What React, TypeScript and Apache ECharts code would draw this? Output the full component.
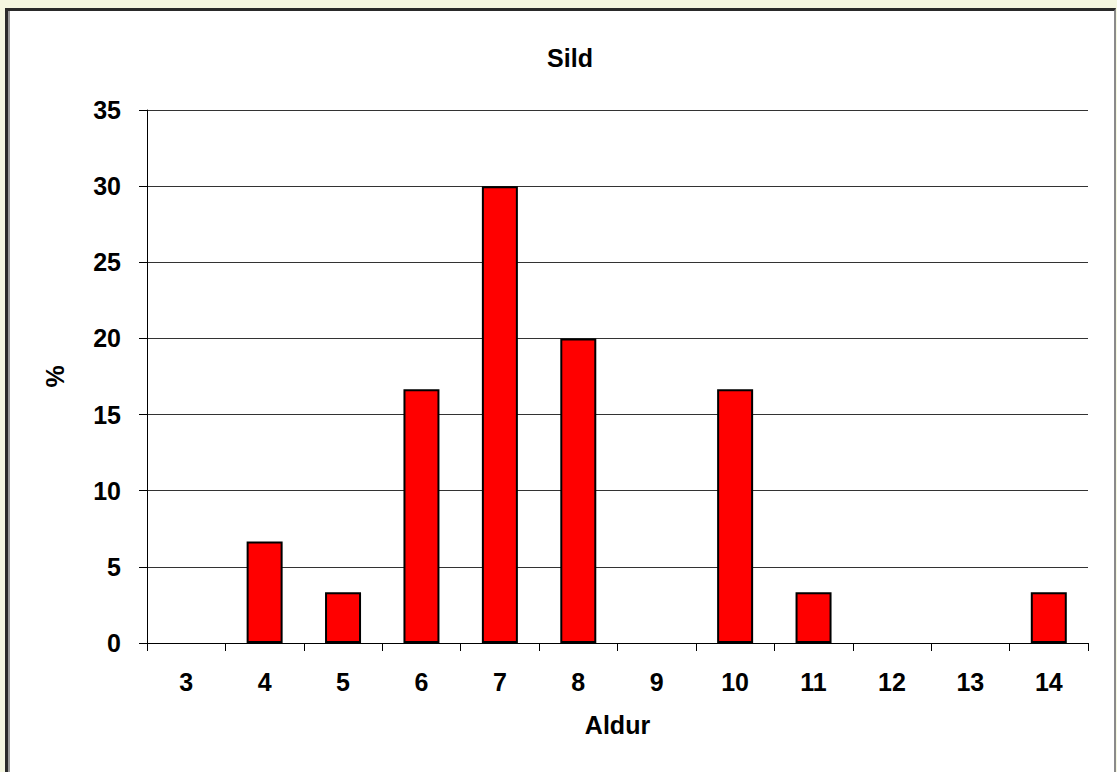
import React, { useEffect, useRef } from "react";
import * as echarts from "echarts";

const categories = ["3", "4", "5", "6", "7", "8", "9", "10", "11", "12", "13", "14"];
const percentValues = [0, 6.67, 3.33, 16.67, 30, 20, 0, 16.67, 3.33, 0, 0, 3.33];
const titleText = "Sild";
const xName = "Aldur";
const yName = "%";

export default function App() {
  const ref = useRef<HTMLDivElement>(null);
  useEffect(() => {
    if (!ref.current) return;
    const chart = echarts.init(ref.current, null, { renderer: "svg" });
    const font = "'Liberation Sans', Arial, sans-serif";
    const fs = 25;
    chart.setOption({
      animation: false,
      title: {
        text: titleText,
        left: 565,
        top: 40,
        textAlign: "center",
        textStyle: { fontFamily: font, fontWeight: "bold", fontSize: fs, color: "#000" },
      },
      grid: { left: 147, top: 110, width: 941, height: 533, containLabel: false },
      xAxis: {
        type: "category",
        data: categories,
        boundaryGap: true,
        name: xName,
        nameLocation: "middle",
        nameGap: 69,
        nameTextStyle: { fontFamily: font, fontWeight: "bold", fontSize: fs, color: "#000" },
        axisLine: { lineStyle: { color: "#000", width: 1 } },
        axisTick: { show: true, length: 8, inside: false, lineStyle: { color: "#000" } },
        axisLabel: { margin: 26, fontFamily: font, fontWeight: "bold", fontSize: fs, color: "#000" },
        splitLine: { show: false },
      },
      yAxis: {
        type: "value",
        min: 0,
        max: 35,
        interval: 5,
        name: yName,
        nameLocation: "middle",
        nameGap: 80,
        nameRotate: 90,
        nameTextStyle: { fontFamily: font, fontWeight: "bold", fontSize: fs, color: "#000" },
        axisLine: { show: true, lineStyle: { color: "#000", width: 1 } },
        axisTick: { show: true, length: 8, lineStyle: { color: "#000" } },
        axisLabel: { margin: 26, fontFamily: font, fontWeight: "bold", fontSize: fs, color: "#000" },
        splitLine: { show: true, lineStyle: { color: "#333", width: 1 } },
      },
      series: [
        {
          type: "bar",
          data: percentValues.map((v) => (v === 0 ? "-" : v)),
          barWidth: 36,
          itemStyle: { color: "#ff0000", borderColor: "#000", borderWidth: 2 },
        },
      ],
    });
    return () => chart.dispose();
  }, []);

  return (
    <div
      style={{
        position: "fixed",
        left: 0,
        top: 0,
        width: 1117,
        height: 772,
        background: "#f5f7e1",
        overflow: "hidden",
      }}
    >
      <div
        style={{
          position: "absolute",
          left: 5,
          top: 8,
          width: 1106,
          height: 800,
          background: "#fff",
          borderTop: "3px solid #2a2a2a",
          borderLeft: "3px solid #2a2a2a",
          borderRight: "2px solid #8a8a8a",
          boxShadow: "inset 2px 0 0 #9a9a9a",
        }}
      />
      <div ref={ref} style={{ position: "absolute", left: 0, top: 0, width: 1117, height: 772 }} />
    </div>
  );
}
